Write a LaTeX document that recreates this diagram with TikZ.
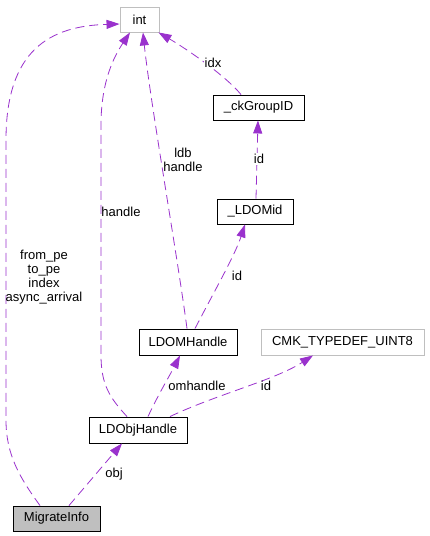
\documentclass[tikz,border=0pt]{standalone}
\usepackage{fontspec}
\setmainfont{Liberation Sans}
\usetikzlibrary{arrows.meta}
\definecolor{edgepurple}{RGB}{154,50,205}
\definecolor{lightborder}{RGB}{191,191,191}
\definecolor{mifill}{RGB}{191,191,191}
\begin{document}
\begin{tikzpicture}[x=1pt,y=-1pt,
  every node/.style={font=\fontsize{13}{14}\selectfont},
  cls/.style={draw=black, line width=0.9pt, inner sep=0pt, minimum height=25pt},
  ext/.style={draw=lightborder, line width=0.9pt, inner sep=0pt, minimum height=25pt},
  rel/.style={draw=edgepurple, line width=0.8pt, dash pattern=on 9pt off 5pt,
    -{Triangle[length=13pt,width=9pt]}, color=edgepurple},
  lbl/.style={align=center, inner sep=0pt, text=black}
]
\useasboundingbox (0,0) rectangle (429,536);
\fill[white] (0,0) rectangle (429,536);

\node[ext, minimum width=39pt] (int) at (139.5,19.5) {int};
\node[cls, minimum width=91pt] (ckg) at (258.5,107.5) {\_ckGroupID};
\node[cls, minimum width=76pt] (ldomid) at (255,211.5) {\_LDOMid};
\node[cls, minimum width=98pt, minimum height=26pt] (ldomh) at (188,342) {LDOMHandle};
\node[ext, minimum width=163pt, minimum height=26pt] (cmk) at (342.5,342) {CMK\_TYPEDEF\_UINT8};
\node[cls, minimum width=98pt, minimum height=26pt] (ldobj) at (138,430) {LDObjHandle};
\node[cls, fill=mifill, minimum width=87pt] (mi) at (56.5,518.5) {MigrateInfo};

% MigrateInfo -> int
\draw[rel] ([xshift=-16.5pt]mi.north) .. controls (20,478) and (6,455) .. (6,420)
  -- (6,140) .. controls (6,50) and (50,26) .. ([yshift=-4.5pt]int.west);
\node[lbl] (l1) at (44,277) {from\_pe\\to\_pe\\index\\async\_arrival};

% LDObjHandle -> int
\draw[rel] ([xshift=-11pt]ldobj.north) .. controls (110,398) and (101,385) .. (101,355)
  -- (101,125) .. controls (101,80) and (115,55) .. ([xshift=-9.5pt]int.south);
\node[lbl] (l2) at (121,212) {handle};

% LDOMHandle -> int
\draw[rel] ([xshift=-1pt]ldomh.north) .. controls (178,260) and (150,100) .. ([xshift=3.5pt]int.south);
\node[lbl] (l3) at (183,160) {ldb\\handle};

% _ckGroupID -> int
\draw[rel] ([xshift=-17.5pt]ckg.north) .. controls (225,75) and (185,48) .. ([xshift=-1pt]int.south east);
\node[lbl, fill=white, inner sep=1pt] (l4) at (213,63) {idx};

% _LDOMid -> _ckGroupID
\draw[rel] ([xshift=1pt]ldomid.north) -- ([xshift=-0.5pt]ckg.south);
\node[lbl, fill=white, inner sep=1pt] (l5) at (259,159) {id};

% LDOMHandle -> _LDOMid
\draw[rel] ([xshift=7pt]ldomh.north) .. controls (215,290) and (235,255) .. ([xshift=-10pt]ldomid.south);
\node[lbl] (l6) at (237,276) {id};

% LDObjHandle -> LDOMHandle
\draw[rel] ([xshift=10pt]ldobj.north) .. controls (158,395) and (170,375) .. ([xshift=-8pt]ldomh.south);
\node[lbl] (l7) at (197,386) {omhandle};

% LDObjHandle -> CMK_TYPEDEF_UINT8
\draw[rel] ([xshift=32pt]ldobj.north) .. controls (215,395) and (275,380) .. ([xshift=-29.5pt]cmk.south);
\node[lbl] (l8) at (266,386) {id};

% MigrateInfo -> LDObjHandle
\draw[rel] ([xshift=12.5pt]mi.north) -- ([xshift=-16pt]ldobj.south);
\node[lbl] (l9) at (114,474) {obj};
\end{tikzpicture}
\end{document}
